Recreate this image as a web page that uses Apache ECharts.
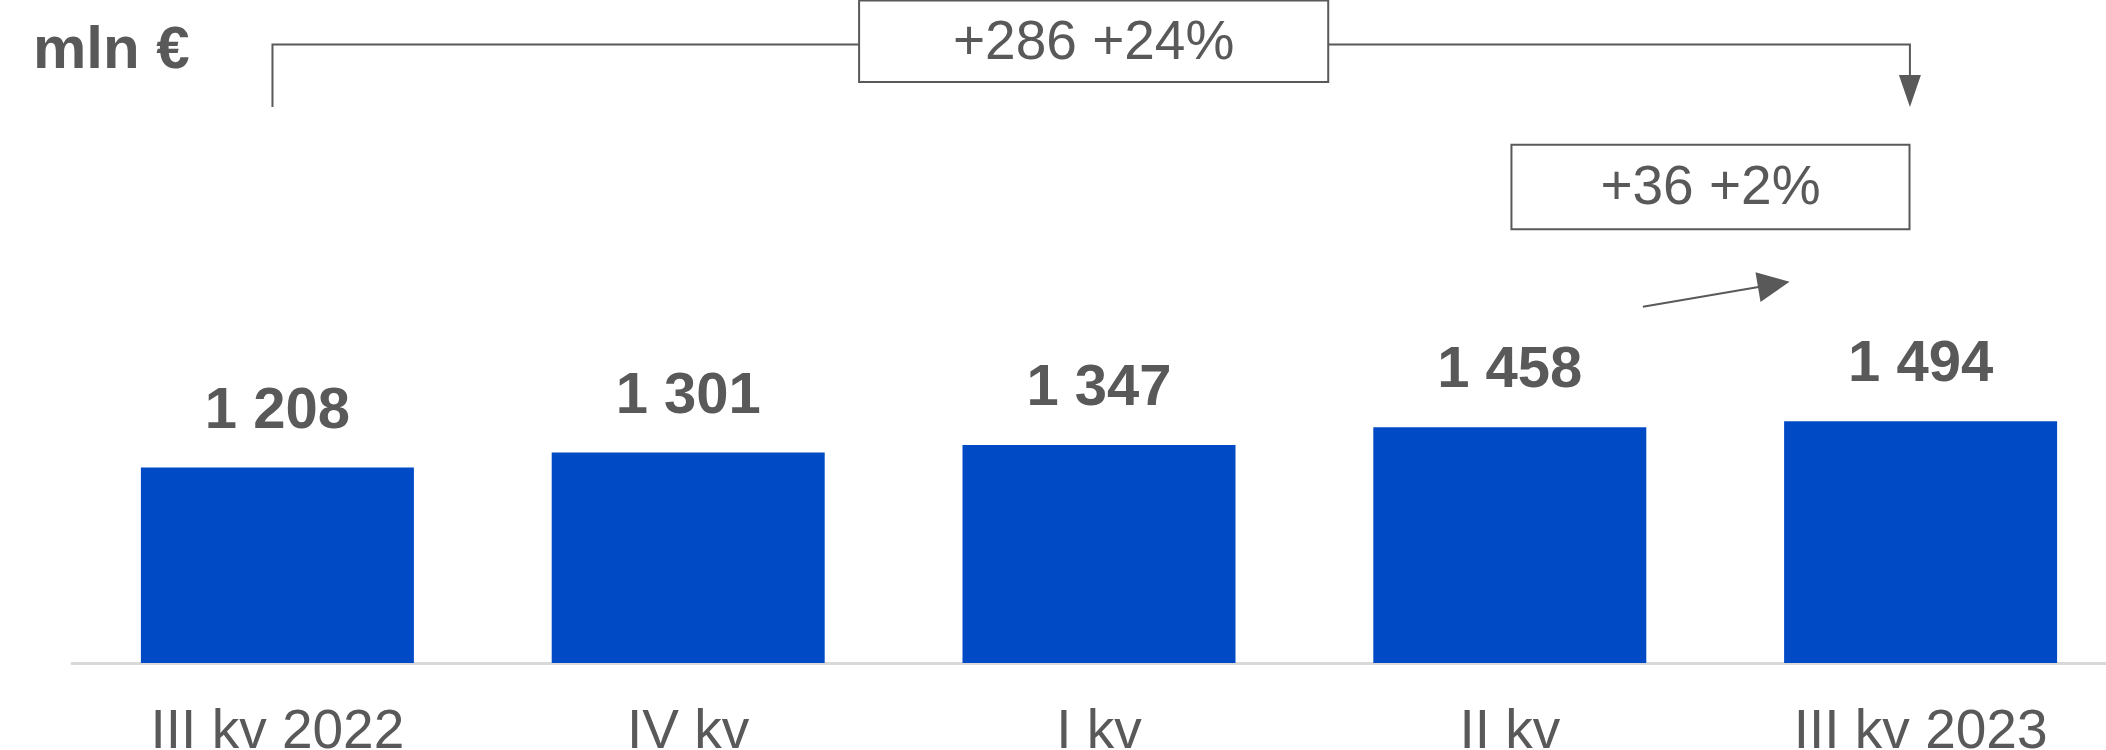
<!DOCTYPE html>
<html>
<head>
<meta charset="utf-8">
<script src="https://cdn.jsdelivr.net/npm/echarts@6/dist/echarts.min.js"></script>
<style>
html,body{margin:0;padding:0;background:#fff;}
#chart{width:2106px;height:750px;}
</style>
</head>
<body>
<div id="chart"></div>
<script>
const categories = ['III kv 2022', 'IV kv', 'I kv', 'II kv', 'III kv 2023'];
const values = [1208, 1301, 1347, 1458, 1494];
const unitLabel = 'mln €';
const changeLabels = ['+286 +24%', '+36 +2%'];

const FONT = '"Liberation Sans", Arial, sans-serif';
const GRAY = '#595959';

function fmt(v) {
  return String(v).replace(/\B(?=(\d{3})+(?!\d))/g, ' ');
}

const chart = echarts.init(document.getElementById('chart'), null, {renderer: 'canvas'});
chart.setOption({
  animation: false,
  backgroundColor: '#ffffff',
  title: {
    text: unitLabel,
    left: 33, top: 21, padding: 0,
    textStyle: {fontFamily: FONT, fontSize: 60, fontWeight: 'bold', color: GRAY}
  },
  grid: {left: 72, right: -20, top: 16, bottom: 87, containLabel: false, outerBoundsMode: 'none'},
  xAxis: {
    type: 'category',
    data: categories,
    axisLine: {lineStyle: {color: '#d9d9d9', width: 3}},
    axisTick: {show: false},
    axisLabel: {fontFamily: FONT, fontSize: 55, color: GRAY, margin: 42}
  },
  yAxis: {type: 'value', min: 0, max: 4000, show: false, splitLine: {show: false}},
  series: [{
    type: 'bar',
    data: values,
    barWidth: 273,
    itemStyle: {color: '#004bc5'},
    label: {
      show: true, position: 'top', distance: 27,
      fontFamily: FONT, fontSize: 58, fontWeight: 'bold', color: GRAY,
      formatter: p => fmt(p.value)
    }
  }]
});

// annotation anchors via the chart's own axes
const p0 = chart.convertToPixel({xAxisIndex: 0, yAxisIndex: 0}, [0, 0]);
const p1 = chart.convertToPixel({xAxisIndex: 0, yAxisIndex: 0}, [1, 0]);
const X = f => p0[0] + f * (p1[0] - p0[0]);
const Y = v => chart.convertToPixel({xAxisIndex: 0, yAxisIndex: 0}, [0, v])[1];

const lineStyle = {stroke: GRAY, lineWidth: 2, fill: null};
const g = [];

// long bracket (III kv 2022 -> III kv 2023)
const xl = X(-0.012), xr = X(3.974);
const yTop = Y(3824), yBot = Y(3437), yHead = Y(3635);
const b1L = X(1.416), b1R = X(2.558), b1T = Y(4096), b1B = Y(3592);
g.push({type: 'polyline', shape: {points: [[xl, yBot], [xl, yTop], [b1L, yTop]]}, style: lineStyle, z: 10});
g.push({type: 'polyline', shape: {points: [[b1R, yTop], [xr, yTop], [xr, yHead]]}, style: lineStyle, z: 10});
g.push({type: 'polygon', shape: {points: [[xr - 11, yHead], [xr + 11, yHead], [xr, yBot]]}, style: {fill: GRAY}, z: 10});
g.push({type: 'rect', shape: {x: b1L, y: b1T, width: b1R - b1L, height: b1B - b1T}, style: {fill: '#fff', stroke: GRAY, lineWidth: 2}, z: 10});
g.push({type: 'text', z: 11, style: {text: changeLabels[0], x: (b1L + b1R) / 2, y: (b1T + b1B) / 2 + 3, align: 'center', verticalAlign: 'middle', fill: GRAY, font: '55px ' + FONT}});

// small box (II kv -> III kv 2023)
const b2L = X(3.004), b2R = X(3.973), b2T = Y(3204), b2B = Y(2681);
g.push({type: 'rect', shape: {x: b2L, y: b2T, width: b2R - b2L, height: b2B - b2T}, style: {fill: '#fff', stroke: GRAY, lineWidth: 2}, z: 10});
g.push({type: 'text', z: 11, style: {text: changeLabels[1], x: (b2L + b2R) / 2, y: (b2T + b2B) / 2 + 2, align: 'center', verticalAlign: 'middle', fill: GRAY, font: '55px ' + FONT}});

// small arrow
const sx = X(3.324), sy = Y(2203), tx = X(3.681), ty = Y(2357);
const dx = tx - sx, dy = ty - sy, len = Math.hypot(dx, dy);
const ux = dx / len, uy = dy / len, nx = -uy, ny = ux;
const hl = 32, hw = 15;
const bx = tx - ux * hl, by = ty - uy * hl;
g.push({type: 'line', shape: {x1: sx, y1: sy, x2: bx + ux * 2, y2: by + uy * 2}, style: {stroke: GRAY, lineWidth: 2}, z: 10});
g.push({type: 'polygon', shape: {points: [[tx, ty], [bx + nx * hw, by + ny * hw], [bx - nx * hw, by - ny * hw]]}, style: {fill: GRAY}, z: 10});

chart.setOption({graphic: g});
</script>
</body>
</html>
